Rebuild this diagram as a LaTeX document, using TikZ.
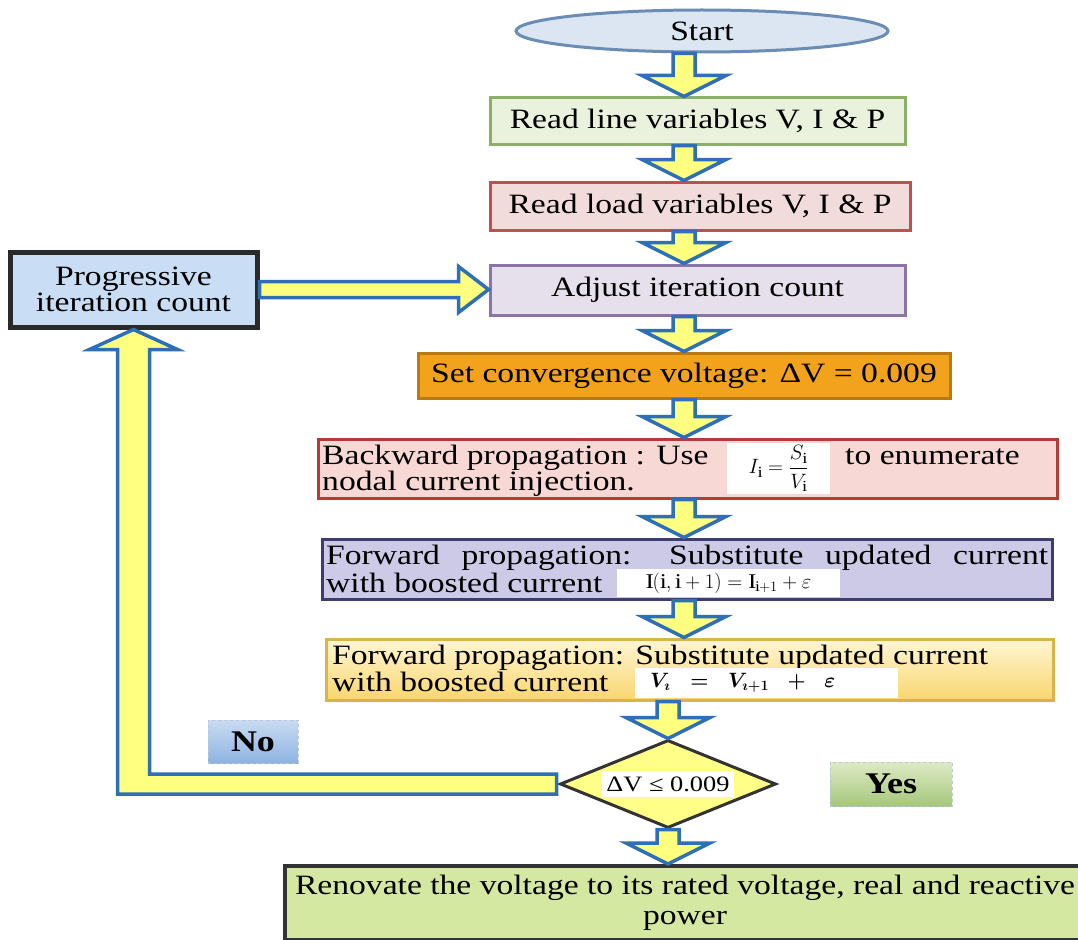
\documentclass[tikz,border=0pt]{standalone}
\usepackage{amsmath}
\usepackage{fontspec}
\setmainfont{Liberation Serif}[FakeStretch=1.2]
\usetikzlibrary{calc,shapes.geometric}
\definecolor{arrblue}{HTML}{2E6FB8}
\definecolor{arryel}{HTML}{FFFF80}
\definecolor{startf}{HTML}{DCE6F2}
\definecolor{startb}{HTML}{6A8CB5}
\definecolor{gf}{HTML}{EAF1DD}
\definecolor{gb}{HTML}{8CAF6A}
\definecolor{rf}{HTML}{F2DCDB}
\definecolor{rb}{HTML}{C0504D}
\definecolor{pf}{HTML}{E6E0EC}
\definecolor{pb}{HTML}{8B74A8}
\definecolor{of}{HTML}{F2A21B}
\definecolor{ob}{HTML}{B97A14}
\definecolor{bkf}{HTML}{F8D8D4}
\definecolor{bkb}{HTML}{B33C38}
\definecolor{f1f}{HTML}{CCCAE6}
\definecolor{f1b}{HTML}{3D3D70}
\definecolor{f2t}{HTML}{FFF6D5}
\definecolor{f2m}{HTML}{F9D66E}
\definecolor{f2b}{HTML}{D9B44A}
\definecolor{diaf}{HTML}{FFFF88}
\definecolor{diab}{HTML}{333333}
\definecolor{progf}{HTML}{C9DEF4}
\definecolor{progb}{HTML}{2A2A2A}
\definecolor{finf}{HTML}{D5E8A2}
\definecolor{finb}{HTML}{333333}
\definecolor{nolt}{HTML}{C9DBF2}
\definecolor{nolb}{HTML}{8DB3E2}
\definecolor{yest}{HTML}{DDEAC6}
\definecolor{yesb}{HTML}{A6C77A}
\definecolor{lblb}{HTML}{B8C8DC}
\tikzset{
  box/.style={draw, rectangle, line width=3pt, inner sep=0pt},
  blk/.style={draw=arrblue, fill=arryel, line width=3.5pt, line join=miter},
  txt/.style={anchor=base west, inner sep=0pt},
  wbox/.style={fill=white, inner sep=0pt},
  lbl/.style={draw=lblb, dashed, line width=0.8pt, inner sep=0pt, font=\fontsize{30}{32}\selectfont\bfseries},
}
\newcommand\varr[3]{%
  \draw[blk] ($(#1.south -| #3)+(-11,0)$) -- ($(#2.north -| #3)+(-11,-21)$)
    -- ($(#2.north -| #3)+(-42,-21)$) -- (#2.north -| #3)
    -- ($(#2.north -| #3)+(42,-21)$) -- ($(#2.north -| #3)+(11,-21)$)
    -- ($(#1.south -| #3)+(11,0)$) -- cycle;}
\begin{document}
\begin{tikzpicture}[x=1pt,y=-1pt,font=\fontsize{28}{30}\selectfont]
\useasboundingbox (0,0) rectangle (1078,939);
\fill[white] (0,0) rectangle (1078,939);
\coordinate (ax) at (684,0);
\coordinate (dx) at (668,0);

% nodes
\node[ellipse, draw=startb, fill=startf, line width=3pt, minimum width=372, minimum height=42, inner sep=0pt] (start) at (702,31) {Start};
\node[box, draw=gb, fill=gf, minimum width=415, minimum height=46] (b1) at (697.5,121) {Read line variables V, I \& P};
\node[box, draw=rb, fill=rf, minimum width=420, minimum height=48] (b2) at (700,206) {Read load variables V, I \& P};
\node[box, draw=pb, fill=pf, minimum width=415, minimum height=50] (b3) at (697.5,290) {Adjust iteration count};
\node[box, draw=progb, fill=progf, line width=5pt, minimum width=247, minimum height=75, align=center, font=\fontsize{28}{26}\selectfont] (prog) at (133.5,289.5) {Progressive\\iteration count};
\node[box, draw=ob, fill=of, minimum width=532, minimum height=45] (conv) at (684,375.5) {Set convergence voltage: ΔV = 0.009};

\node[box, draw=bkb, fill=bkf, minimum width=739, minimum height=59] (back) at (687.5,468.5) {};
\node[txt] (bt1) at (322,464) {Backward propagation : Use};
\node[txt] (bt2) at (322,490) {nodal current injection.};
\node[wbox, minimum width=103, minimum height=51, font=\fontsize{22}{24}\selectfont] (fa) at (778.5,468.5) {$I_{\mathrm{i}}=\dfrac{S_{\mathrm{i}}}{V_{\mathrm{i}}}$};
\node[txt] (bt3) at (845,464) {to enumerate};

\node[box, draw=f1b, fill=f1f, minimum width=730, minimum height=60] (fw1) at (687,569) {};
\node[txt] (ft1) at (326,564) {\makebox[722pt][s]{Forward propagation: Substitute updated current}};
\node[txt] (ft2) at (326,592) {with boosted current};
\node[wbox, minimum width=223, minimum height=28, font=\fontsize{21}{23}\selectfont] (fb) at (728.5,583) {$\mathrm{I}(\mathrm{i},\mathrm{i}+1)=\mathrm{I}_{\mathrm{i}+1}+\varepsilon$};

\node[box, draw=f2b, top color=f2t, bottom color=f2m, minimum width=727, minimum height=61] (fw2) at (689.5,669.5) {};
\node[txt] (gt1) at (332,664) {Forward propagation: Substitute updated current};
\node[txt] (gt2) at (332,691) {with boosted current};
\node[wbox, minimum width=263, minimum height=30] (fc) at (766.5,683) {};
\node[anchor=west, inner sep=0pt, font=\fontsize{22}{24}\selectfont] (fct) at (650,683) {$\boldsymbol{V_{\imath}\ \ =\ \ V_{\imath+1}\ \ +\ \ \varepsilon}$};

\node[diamond, draw=diab, fill=diaf, line width=3pt, minimum width=216, minimum height=88, inner sep=0pt] (dia) at (668,784) {};
\node[wbox, minimum height=26, inner xsep=4pt, font=\fontsize{22}{24}\selectfont] (dt) at (dia.center) {ΔV ≤ 0.009};

\node[lbl, top color=nolt, bottom color=nolb, minimum width=90, minimum height=43] (no) at (253,741.5) {No};
\node[lbl, top color=yest, bottom color=yesb, minimum width=122, minimum height=44] (yes) at (891,784) {Yes};

\node[box, draw=finb, fill=finf, line width=4pt, minimum width=800, minimum height=74, align=center] (fin) at (685,903) {Renovate the voltage to its rated voltage, real and reactive\\power};

% arrows
\varr{start}{b1}{ax}
\varr{b1}{b2}{ax}
\varr{b2}{b3}{ax}
\varr{b3}{conv}{ax}
\varr{conv}{back}{ax}
\varr{back}{fw1}{ax}
\varr{fw1}{fw2}{ax}
\varr{fw2}{dia}{dx}
\varr{dia}{fin}{dx}

\draw[blk] ($(prog.east)+(0,-8)$) -- ($(prog.east -| b3.west)+(-30,-8)$)
  -- ($(prog.east -| b3.west)+(-30,-23)$) -- (prog.east -| b3.west)
  -- ($(prog.east -| b3.west)+(-30,23)$) -- ($(prog.east -| b3.west)+(-30,8)$)
  -- ($(prog.east)+(0,8)$) -- cycle;

\draw[blk] ($(dia.west)+(-2,-10)$) -- ($(prog.south |- dia.west)+(16,-10)$)
  -- ($(prog.south)+(16,20)$) -- ($(prog.south)+(44,20)$) -- (prog.south)
  -- ($(prog.south)+(-44,20)$) -- ($(prog.south)+(-16,20)$)
  -- ($(prog.south |- dia.west)+(-16,10)$) -- ($(dia.west)+(-2,10)$) -- cycle;
\end{tikzpicture}
\end{document}
